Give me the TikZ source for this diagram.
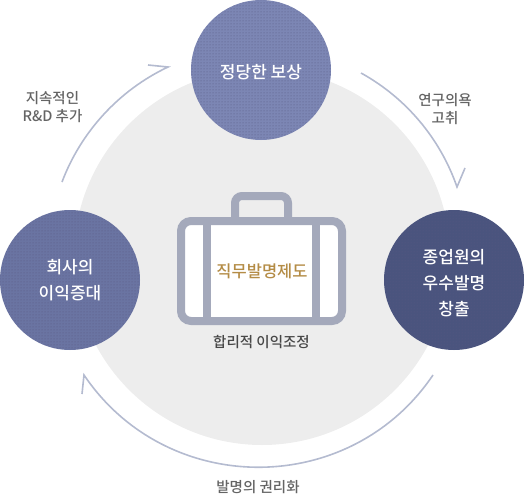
\documentclass[tikz,border=0pt]{standalone}
\usepackage{fontspec}
\setmainfont{Noto Sans CJK KR}
\newfontfamily\medfont{Noto Sans CJK KR Medium}
\usetikzlibrary{positioning,patterns}
\definecolor{otop}{RGB}{124,134,180}
\definecolor{oleft}{RGB}{106,116,162}
\definecolor{oright}{RGB}{74,84,126}
\definecolor{ogray}{RGB}{237,237,237}
\definecolor{oline}{RGB}{180,187,208}
\definecolor{ocase}{RGB}{164,169,187}
\definecolor{ogold}{RGB}{180,140,70}
\definecolor{otext}{RGB}{100,100,100}
\tikzset{
  stage/.style ={circle, minimum size=140pt, inner sep=0pt, align=center,
                 text=white, font=\medfont\fontsize{17}{26}\selectfont,
                 postaction={pattern=dots, pattern color=black!45!blue!30!gray}},
  lbl/.style   ={align=center, text=otext, font=\medfont\fontsize{14.5}{18.5}\selectfont},
  arcl/.style  ={draw=oline, line width=1.6pt},
  case/.style  ={draw=ocase, line width=8pt}
}
\begin{document}
\begin{tikzpicture}[x=1pt,y=-1pt]
\useasboundingbox (0,0) rectangle (525,495);
\fill[ogray] (262,257) circle (188);
% stages
\node[stage, fill=otop] (comp) at (261,70) {\rule{0pt}{18pt}정당한 보상};
\node[stage, fill=oleft] (firm) at (70,280) {회사의\\이익증대};
\node[stage, fill=oright] (emp) at (454,280) {\rule{0pt}{21pt}종업원의\\우수발명\\창출};
% arrows round the stages
\coordinate (a1) at (62,182);
\coordinate (a2) at (168,67);
\coordinate (a2b) at (148,65);
\coordinate (b1) at (361,73);
\coordinate (b2) at (457,187);
\coordinate (b2b) at (465,168);
\coordinate (c1) at (433,375);
\coordinate (c2) at (84,375);
\coordinate (c2b) at (82,394);
\draw[arcl] (a1) to[bend left=22, looseness=.88] (a2) -- (a2b);
\draw[arcl] (b1) to[bend left=21, looseness=.88] (b2) -- (b2b);
\draw[arcl] (c1) to[bend left=56, looseness=1.09] (c2) -- (c2b);
\node[lbl] (keep) at (52.5,107) {지속적인\\R\&D 추가};
\node[lbl] (will) at (445,109) {연구의욕\\고취};
\node[lbl] (right) at (258,487) {발명의 권리화};
% suitcase
\node[rectangle, rounded corners=10pt, minimum width=161pt, minimum height=100pt,
  fill=white, case] (bag) at (261.5,271) {};
\draw[case, rounded corners=7pt] (235,217) |- (288,196) -- (288,217);
\draw[case] (206.5,217) -- (206.5,325);
\draw[case] (316,217) -- (316,325);
\node[text=ogold, font=\medfont\fontsize{16.5}{18}\selectfont] (sys) at (262,271) {직무발명제도};
\node[below=6.5pt of bag, text=black!72, font=\medfont\fontsize{14.5}{16}\selectfont] (adj) {합리적 이익조정};
\end{tikzpicture}
\end{document}
